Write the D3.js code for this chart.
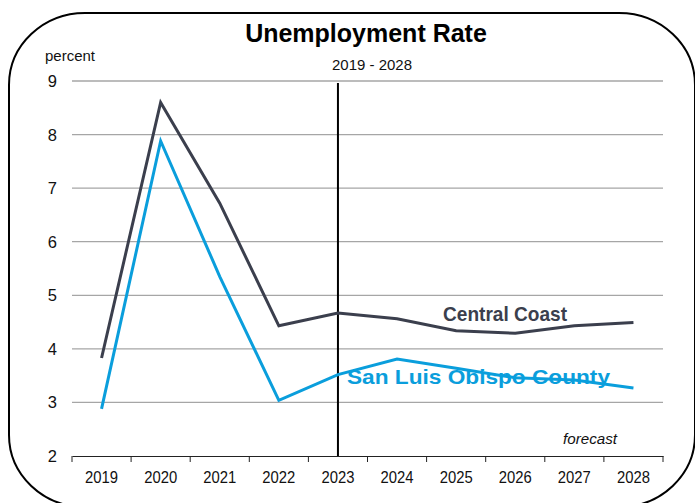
<!DOCTYPE html>
<html>
<head>
<meta charset="utf-8">
<script src="https://cdn.jsdelivr.net/npm/d3@7"></script>
<style>
  html, body { margin: 0; padding: 0; background: #fff; }
  svg { display: block; font-family: "Liberation Sans", Arial, sans-serif; }
</style>
</head>
<body>
<svg id="chart" width="695" height="503"></svg>
<script>
// Annual unemployment rate, percent (2024 onward is forecast)
const years = ["2019", "2020", "2021", "2022", "2023", "2024", "2025", "2026", "2027", "2028"];
const centralCoast = [3.83, 8.6, 6.72, 4.43, 4.67, 4.56, 4.34, 4.29, 4.43, 4.49];
const sanLuisObispo = [2.88, 7.88, 5.35, 3.04, 3.52, 3.81, 3.64, 3.46, 3.42, 3.27];
const yTicks = [2, 3, 4, 5, 6, 7, 8, 9];
const forecastStart = "2023";

const svg = d3.select("#chart");
const plot = { left: 72, right: 663, top: 81, bottom: 456 };

// Rounded frame around the whole graphic
svg.append("rect")
  .attr("x", 9).attr("y", 13)
  .attr("width", 686).attr("height", 494)
  .attr("rx", 76).attr("ry", 72)
  .attr("fill", "none").attr("stroke", "#000").attr("stroke-width", 2);

const x = d3.scaleBand().domain(years).range([plot.left, plot.right]);
const y = d3.scaleLinear().domain([2, 9]).range([plot.bottom, plot.top]);

// Horizontal gridlines
svg.append("g").selectAll("line")
  .data(yTicks.filter(d => d > 2))
  .join("line")
  .attr("x1", plot.left).attr("x2", plot.right)
  .attr("y1", d => y(d)).attr("y2", d => y(d))
  .attr("stroke", "#a6a6a6").attr("stroke-width", 1.3);

// Y tick labels
svg.append("g").selectAll("text")
  .data(yTicks)
  .join("text")
  .attr("x", 57).attr("y", d => y(d) + 6)
  .attr("text-anchor", "end")
  .attr("font-size", 16.5).attr("fill", "#111")
  .text(d => d);

// X axis with ticks between categories
const xAxis = svg.append("g")
  .attr("transform", `translate(0,${plot.bottom})`)
  .call(d3.axisBottom(x).tickSize(0).tickPadding(15));
xAxis.select(".domain").attr("stroke", "#222").attr("stroke-width", 1.2);
xAxis.selectAll("text")
  .attr("font-size", 16.5).attr("fill", "#111")
  .attr("font-family", "Liberation Sans, Arial, sans-serif")
  .attr("textLength", 33).attr("lengthAdjust", "spacingAndGlyphs");
const bounds = years.map(d => x(d)).concat([x(years[years.length - 1]) + x.bandwidth()]);
svg.append("g").selectAll("line")
  .data(bounds)
  .join("line")
  .attr("x1", d => d).attr("x2", d => d)
  .attr("y1", plot.bottom).attr("y2", plot.bottom + 6)
  .attr("stroke", "#222").attr("stroke-width", 1);

// Vertical divider marking the start of the forecast
const cx = d => x(d) + x.bandwidth() / 2;
svg.append("line")
  .attr("x1", cx(forecastStart)).attr("x2", cx(forecastStart))
  .attr("y1", plot.top + 2).attr("y2", plot.bottom)
  .attr("stroke", "#000").attr("stroke-width", 2);

// Series lines
const line = d3.line().x((d, i) => cx(years[i])).y(d => y(d));
svg.append("path").datum(centralCoast)
  .attr("d", line).attr("fill", "none")
  .attr("stroke", "#3b3f4d").attr("stroke-width", 3).attr("stroke-linejoin", "miter");
svg.append("path").datum(sanLuisObispo)
  .attr("d", line).attr("fill", "none")
  .attr("stroke", "#0a9edc").attr("stroke-width", 3).attr("stroke-linejoin", "miter");

// Series labels
svg.append("text")
  .attr("x", 443).attr("y", 321)
  .attr("font-size", 20.5).attr("font-weight", "bold").attr("fill", "#3b3f4d")
  .attr("textLength", 124).attr("lengthAdjust", "spacingAndGlyphs")
  .text("Central Coast");
svg.append("text")
  .attr("x", 347).attr("y", 384)
  .attr("font-size", 20.5).attr("font-weight", "bold").attr("fill", "#0a9edc")
  .attr("textLength", 263).attr("lengthAdjust", "spacingAndGlyphs")
  .text("San Luis Obispo County");

// Titles and notes
svg.append("text")
  .attr("x", 366).attr("y", 42)
  .attr("text-anchor", "middle")
  .attr("font-size", 25).attr("font-weight", "bold").attr("fill", "#000")
  .text("Unemployment Rate");
svg.append("text")
  .attr("x", 372).attr("y", 70)
  .attr("text-anchor", "middle")
  .attr("font-size", 15).attr("fill", "#111")
  .attr("textLength", 80).attr("lengthAdjust", "spacingAndGlyphs")
  .text("2019 - 2028");
svg.append("text")
  .attr("x", 45).attr("y", 61)
  .attr("font-size", 15.5).attr("fill", "#111")
  .attr("textLength", 50).attr("lengthAdjust", "spacingAndGlyphs")
  .text("percent");
svg.append("text")
  .attr("x", 617).attr("y", 444)
  .attr("text-anchor", "end")
  .attr("font-size", 15).attr("font-style", "italic").attr("fill", "#111")
  .attr("textLength", 54).attr("lengthAdjust", "spacingAndGlyphs")
  .text("forecast");
</script>
</body>
</html>
